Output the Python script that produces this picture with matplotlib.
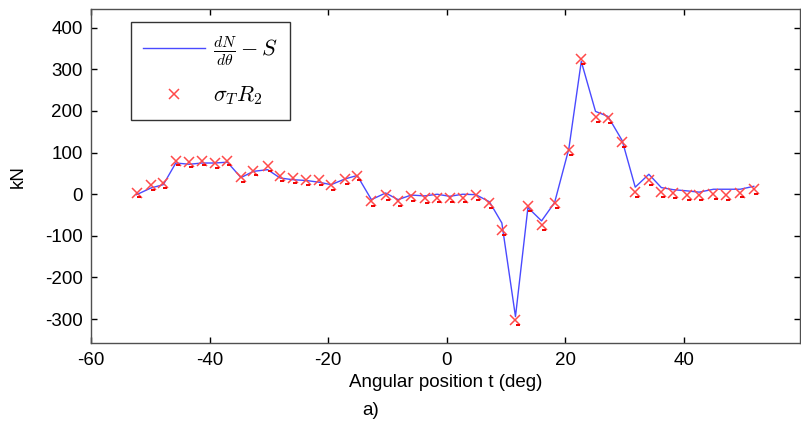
import matplotlib
matplotlib.use("Agg")
import matplotlib.pyplot as plt
from matplotlib.transforms import ScaledTranslation

plt.rcParams['font.family'] = ['Liberation Sans', 'DejaVu Sans']
plt.rcParams['mathtext.fontset'] = 'cm'
plt.rcParams['axes.unicode_minus'] = False

# Angular positions (deg)
angle = [-52.3, -49.9, -47.8, -45.7, -43.4, -41.3, -39.1, -37.0, -34.7, -32.6,
         -30.2, -28.1, -26.0, -23.7, -21.6, -19.5, -17.1, -15.1, -12.7, -10.3,
         -8.2, -6.0, -3.7, -1.6, 0.5, 2.7, 4.9, 7.2, 9.3, 11.6,
         13.7, 16.0, 18.2, 20.6, 22.7, 25.1, 27.2, 29.6, 31.8, 34.1,
         36.2, 38.2, 40.6, 42.6, 45.0, 47.1, 49.5, 51.8]

# dN/dtheta - S (kN)
dn_minus_s = [-1, 15, 23, 75, 72, 75, 75, 77, 40, 55,
              59, 39, 35, 33, 29, 23, 37, 45, -13, 3,
              -13, -2, -4, 0, -5, 0, -1, -18, -69, -294,
              -32, -64, -20, 109, 319, 199, 187, 129, 17, 48,
              16, 11, 8, 5, 12, 12, 12, 19]

# sigma_T * R_2 (kN)
sigma_r2 = [4, 23, 27, 81, 77, 81, 75, 81, 41, 57,
            67, 44, 39, 35, 33, 23, 37, 45, -17, -2,
            -17, -4, -9, -8, -8, -8, -2, -22, -86, -303,
            -29, -74, -22, 107, 325, 185, 183, 125, 5, 33,
            5, 2, -1, -1, 0, -1, 4, 13]

x_ticks = [-60, -40, -20, 0, 20, 40]
y_ticks = [-300, -200, -100, 0, 100, 200, 300, 400]

fig = plt.figure(figsize=(8.01, 4.28), dpi=100)
ax = fig.add_axes([0.1136, 0.198, 0.8852, 0.780])

ax.plot(angle, dn_minus_s, color='#4a4aff', lw=1.0, label=r'$\frac{dN}{d\theta}-S$', zorder=2)
ax.plot(angle, sigma_r2, linestyle='none', marker='x', ms=6.5, mew=1.1,
        color='#ff4a4a', label=r'$\sigma_T R_2$', zorder=3)
# small underline under each cross marker
under = ax.transData + ScaledTranslation(1.5 / 72, -3.5 / 72, fig.dpi_scale_trans)
ax.plot(angle, sigma_r2, linestyle='none', marker='_', ms=3.5, mew=1.4,
        color='#f00000', transform=under, zorder=3)

ax.set_xlim(-60, 59.6)
ax.set_ylim(-358, 444)
ax.set_xticks(x_ticks)
ax.set_yticks(y_ticks)
ax.tick_params(direction='in', top=True, right=True, length=4, width=1,
               labelsize=13.5, pad=6, colors='black')
for s in ax.spines.values():
    s.set_color('#505050')
    s.set_linewidth(1.0)

ax.set_xlabel('Angular position t (deg)', fontsize=13.5, labelpad=4)
ax.set_ylabel('kN', fontsize=13.5, labelpad=13)
fig.text(0.4625, 0.040, 'a)', fontsize=13.5, ha='center', va='center')

leg = ax.legend(loc='upper left', bbox_to_anchor=(0.056, 0.961), borderaxespad=0,
                fontsize=16, frameon=True, fancybox=False, handlelength=2.8,
                labelspacing=0.75, borderpad=0.55, handletextpad=0.35)
leg.get_frame().set_edgecolor('black')
leg.get_frame().set_linewidth(1.0)

fig.savefig('out.png', dpi=100)
